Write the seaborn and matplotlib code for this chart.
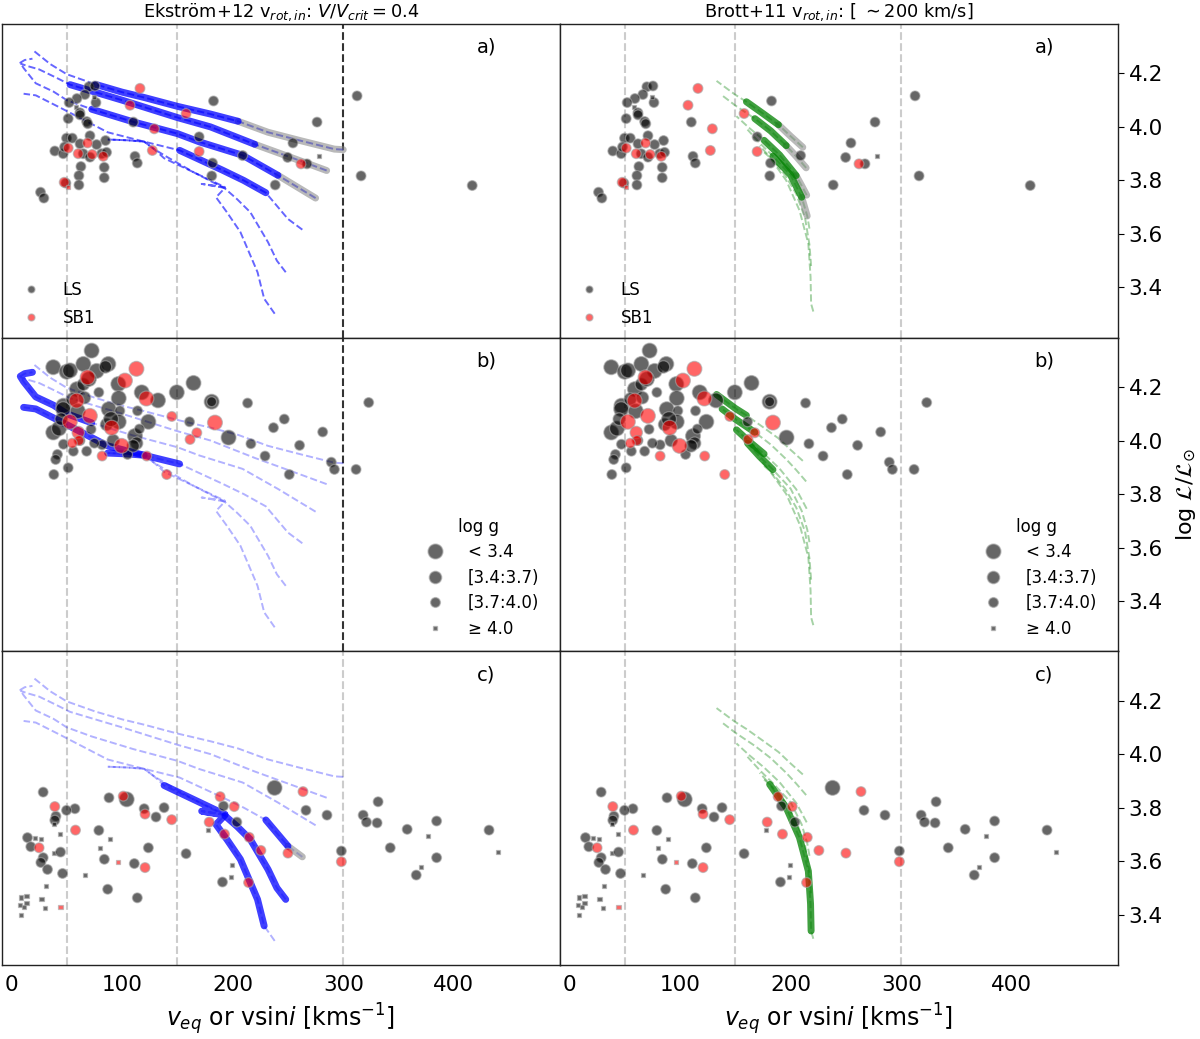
import numpy as np
import pandas as pd
import matplotlib
matplotlib.use("Agg")
import matplotlib.pyplot as plt
import seaborn as sns
from matplotlib.lines import Line2D

sns.set_style("white")
plt.rcParams['font.family'] = ['DejaVu Sans']
plt.rcParams['mathtext.fontset'] = 'dejavusans'
for key in ('text.color', 'axes.labelcolor', 'xtick.color', 'ytick.color'):
    plt.rcParams[key] = 'black'

# ---------------- data: panel a ----------------
a_ls_v = [70, 75.5, 66.4, 59.2, 52.2, 76.4, 74.9, 58, 61.9, 62, 51.3, 68, 69, 49.8, 55, 71, 62, 85.1, 77,
          39.2, 46.8, 48, 64.9, 71, 81.5, 86, 83.9, 62.8, 61, 83.9, 49.2, 61, 26.3, 29.3, 110.2, 111.7,
          113.8, 182.7, 169.7, 181.8, 181.1, 209, 276.3, 254.5, 249.7, 267.2, 277.8, 238.5, 312.5, 316.1, 416.6]
a_ls_L = [4.15, 4.153, 4.121, 4.106, 4.091, 4.091, 4.113, 4.074, 4.053, 4.045, 4.031, 4.02, 4.012, 3.958, 3.958,
          3.967, 3.937, 3.949, 3.934, 3.91, 3.90, 3.925, 3.90, 3.887, 3.90, 3.905, 3.849, 3.852, 3.818, 3.81,
          3.79, 3.783, 3.756, 3.734, 4.018, 3.89, 3.865, 4.097, 3.963, 3.865, 3.817, 3.893, 4.018, 3.94, 3.886,
          3.862, 3.89, 3.783, 4.116, 3.817, 3.781]
a_ls_g = [3, 3, 3, 3, 3, 3, 4, 4, 3, 3, 3, 3, 3, 3, 3, 3, 3, 3, 3, 3, 3, 3, 3, 3, 3, 3, 3, 3, 3, 3, 3, 3, 3, 3,
          3, 3, 3, 3, 3, 3, 3, 3, 3, 3, 3, 3, 4, 3, 3, 3, 3]
a_sb_v = [116.2, 107.2, 157.9, 129.2, 127.4, 169.7, 261.8, 51.3, 60.4, 68.8, 73, 83, 47.7, 51.3]
a_sb_L = [4.144, 4.081, 4.05, 3.993, 3.912, 3.908, 3.862, 3.921, 3.90, 3.94, 3.897, 3.89, 3.793, 3.775]
a_sb_g = [3, 3, 3, 3, 3, 3, 3, 3, 3, 3, 3, 3, 3, 4]

# ---------------- data: panel b ----------------
b_ls_v = [72.5, 37.8, 49.9, 53, 65, 77, 87.6, 85, 96.6, 59.2, 79, 97, 117.8, 132.5, 149.5, 164.6, 181, 181,
          213.5, 323, 47, 46.8, 55, 66, 88, 98, 114, 123.8, 37.8, 43, 45, 72, 97, 111.7, 113.2, 115.7, 196.3,
          161, 216.5, 229.3, 236.9, 246.7, 251.2, 260.5, 281.4, 289.2, 292, 311.6, 105, 82, 68, 56, 41.6, 40,
          38.3, 51.3, 47, 62, 75, 86, 90, 60, 65, 70, 110, 92]
b_ls_L = [4.336, 4.274, 4.257, 4.262, 4.286, 4.26, 4.286, 4.275, 4.211, 4.192, 4.18, 4.158, 4.18, 4.15, 4.18,
          4.215, 4.145, 4.145, 4.14, 4.142, 4.13, 4.117, 4.155, 4.16, 4.117, 4.111, 4.111, 4.07, 4.03, 4.045,
          4.08, 4.042, 4.07, 4.017, 3.99, 4.043, 4.011, 4.07, 3.988, 3.942, 4.048, 4.08, 3.873, 3.982, 4.032,
          3.919, 3.892, 3.892, 3.948, 3.984, 3.96, 3.96, 3.948, 3.929, 3.873, 3.898, 3.986, 4.0, 3.99, 4.06,
          4.08, 4.11, 4.21, 4.23, 3.98, 4.0]
b_ls_g = [1, 1, 1, 1, 1, 1, 1, 2, 1, 1, 3, 1, 1, 1, 1, 1, 1, 3, 3, 3, 1, 1, 2, 2, 1, 3, 3, 1, 1, 1, 2, 3, 1, 1,
          2, 3, 1, 3, 3, 3, 3, 3, 3, 3, 3, 3, 3, 3, 3, 3, 3, 3, 3, 3, 3, 3, 3, 3, 3, 2, 1, 1, 2, 1, 2, 2]
b_sb_v = [113, 68.8, 102.6, 122, 58.9, 70.9, 52.8, 90.6, 145, 184, 167.6, 161.5, 60.4, 61, 55, 99.6, 82,
          122.3, 140.4]
b_sb_L = [4.268, 4.236, 4.224, 4.157, 4.149, 4.092, 4.07, 4.048, 4.09, 4.067, 4.029, 4.004, 4.03, 4.0, 3.99,
          3.98, 3.942, 3.942, 3.873]
b_sb_g = [1, 1, 1, 1, 1, 1, 1, 1, 3, 1, 3, 3, 2, 3, 3, 1, 3, 3, 3]

# ---------------- data: panel c ----------------
c_ls_v = [28.7, 88.2, 104.2, 57.4, 49.8, 40.2, 39.2, 38.6, 120, 130.7, 138, 79, 14.5, 17.5, 21.1, 26.6, 28.7,
          26.6, 32.6, 43.8, 38.3, 44.4, 46.2, 66.4, 89, 80, 84, 123.8, 111.1, 87, 113.8, 157.9, 31.1, 27.2,
          30.2, 8.5, 13.6, 7.6, 13.6, 11.5, 8.5, 177.9, 191.7, 203.8, 199.3, 198.7, 190.8, 237.9, 266.3, 285.3,
          298.3, 318, 321, 330.6, 331.5, 342.5, 357.8, 384.4, 384.4, 366, 376.6, 370, 431.8, 439.6]
c_ls_L = [3.858, 3.837, 3.831, 3.796, 3.79, 3.768, 3.753, 3.74, 3.796, 3.765, 3.80, 3.715, 3.688, 3.654, 3.688,
          3.682, 3.613, 3.595, 3.569, 3.70, 3.632, 3.634, 3.554, 3.548, 3.684, 3.648, 3.607, 3.65, 3.591, 3.495,
          3.463, 3.628, 3.506, 3.46, 3.426, 3.464, 3.47, 3.436, 3.444, 3.43, 3.40, 3.716, 3.806, 3.746, 3.585,
          3.541, 3.522, 3.874, 3.79, 3.772, 3.638, 3.772, 3.746, 3.743, 3.822, 3.65, 3.719, 3.75, 3.613, 3.548,
          3.695, 3.579, 3.716, 3.634]
c_ls_g = [3, 3, 1, 3, 3, 3, 3, 4, 3, 3, 3, 3, 3, 3, 4, 4, 3, 3, 3, 4, 4, 3, 3, 4, 4, 4, 3, 3, 3, 3, 3, 3, 4, 4,
          4, 4, 4, 4, 4, 4, 4, 4, 3, 3, 4, 4, 3, 1, 3, 3, 3, 3, 3, 3, 3, 3, 3, 3, 3, 3, 4, 4, 3, 4]
c_sb_v = [39.2, 25, 57.9, 101.1, 120.8, 144.9, 120.8, 96, 44.4, 178.8, 188.7, 192.6, 201.4, 215, 214.4, 225.5,
          250, 263.6, 298.3]
c_sb_L = [3.804, 3.65, 3.716, 3.843, 3.776, 3.755, 3.576, 3.598, 3.43, 3.746, 3.841, 3.701, 3.804, 3.689, 3.52,
          3.64, 3.63, 3.86, 3.598]
c_sb_g = [3, 3, 3, 3, 3, 3, 3, 4, 4, 3, 3, 3, 3, 3, 3, 3, 3, 3, 3]

# ---------------- Ekstrom+12 tracks (ZAMS -> end) ----------------
ek_tracks = {
    'E1': ([300, 292, 260, 232, 205, 180, 150, 120, 100, 76, 50, 35, 20],
           [3.915, 3.917, 3.95, 3.98, 4.021, 4.048, 4.077, 4.11, 4.13, 4.159, 4.197, 4.235, 4.285]),
    'E2': ([285, 260, 240, 220, 180, 150, 100, 53, 40, 25, 14, 8],
           [3.837, 3.875, 3.905, 3.935, 4.0, 4.035, 4.10, 4.158, 4.185, 4.215, 4.228, 4.237]),
    'E3': ([275, 241, 209, 170, 150, 110, 72.6, 50, 38, 22, 11, 8, 12, 19],
           [3.734, 3.819, 3.894, 3.944, 3.975, 4.019, 4.066, 4.10, 4.132, 4.163, 4.22, 4.24, 4.25, 4.255]),
    'E4': ([263, 250, 230, 210, 190, 152, 120, 87, 45, 22, 11],
           [3.616, 3.656, 3.754, 3.80, 3.84, 3.9125, 3.945, 3.98, 4.07, 4.118, 4.124]),
    'E5': ([248, 240, 232, 216, 204, 193, 165, 141, 129, 120, 105, 87],
           [3.457, 3.50, 3.569, 3.681, 3.73, 3.77, 3.83, 3.887, 3.917, 3.945, 3.95, 3.953]),
    'E6': ([238, 228.5, 222.5, 207, 195, 185, 193, 172, 193, 165, 138, 129, 120, 105, 87],
           [3.302, 3.358, 3.457, 3.607, 3.68, 3.737, 3.772, 3.787, 3.775, 3.83, 3.883, 3.917, 3.945, 3.95, 3.953]),
}
# segments: (track, first index, last index, kind)
ek_segments = {
    'a': [('E1', 0, 4, 'gray'), ('E1', 4, 9, 'model'), ('E2', 0, 3, 'gray'), ('E2', 3, 7, 'model'),
          ('E3', 0, 1, 'gray'), ('E3', 1, 6, 'model'), ('E4', 2, 5, 'model')],
    'b': [('E3', 6, 13, 'model'), ('E4', 5, 10, 'model'), ('E5', 9, 11, 'model')],
    'c': [('E4', 0, 1, 'gray'), ('E4', 1, 2, 'model'), ('E5', 0, 5, 'model'), ('E6', 1, 10, 'model')],
}

# ---------------- Brott+11 tracks (ZAMS -> end) ----------------
br_tracks = {
    'D1': ([211, 200, 189, 175, 160, 150, 133], [3.924, 3.965, 4.008, 4.05, 4.094, 4.12, 4.172]),
    'D2': ([214, 205, 196, 182, 167.6, 150, 138], [3.847, 3.89, 3.93, 3.985, 4.031, 4.08, 4.118]),
    'D3': ([214.5, 210, 205, 190, 176, 162, 151], [3.745, 3.78, 3.818, 3.895, 3.95, 3.998, 4.04]),
    'D4': ([217, 215, 210, 200, 184, 172, 161], [3.62, 3.667, 3.737, 3.82, 3.891, 3.94, 3.99]),
    'D5': ([218.5, 217, 213, 205, 195, 185, 172], [3.48, 3.56, 3.66, 3.75, 3.82, 3.87, 3.93]),
    'D6': ([220.5, 218.5, 218, 216, 208, 196, 181, 176], [3.31, 3.339, 3.44, 3.563, 3.688, 3.80, 3.887, 3.905]),
}
br_segments = {
    'a': [('D1', 0, 2, 'gray'), ('D1', 2, 4, 'model'), ('D2', 0, 2, 'gray'), ('D2', 2, 4, 'model'),
          ('D3', 0, 2, 'gray'), ('D3', 2, 4, 'model'), ('D4', 1, 2, 'gray'), ('D4', 2, 4, 'model')],
    'b': [('D1', 4, 6, 'model'), ('D2', 4, 6, 'model'), ('D3', 4, 6, 'model'), ('D4', 4, 6, 'model')],
    'c': [('D6', 1, 6, 'model')],
}

panel_points = {
    'a': (a_ls_v, a_ls_L, a_ls_g, a_sb_v, a_sb_L, a_sb_g),
    'b': (b_ls_v, b_ls_L, b_ls_g, b_sb_v, b_sb_L, b_sb_g),
    'c': (c_ls_v, c_ls_L, c_ls_g, c_sb_v, c_sb_L, c_sb_g),
}

logg_labels = ['< 3.4', '[3.4:3.7)', '[3.7:4.0)', '≥ 4.0']
size_map = {1: 115, 2: 80, 3: 50, 4: 9}
marker_map = {1: 'o', 2: 'o', 3: 'o', 4: 's'}

# ---------------- figure ----------------
fig = plt.figure(figsize=(12, 10.39), dpi=100)
gs = fig.add_gridspec(3, 2, left=0.0017, right=0.9317, top=0.977, bottom=0.0715, wspace=0, hspace=0)
axes = np.array([[fig.add_subplot(gs[r, c]) for c in range(2)] for r in range(3)])


def draw_tracks(ax, tracks, segments, color, dash_alpha):
    for name, (tv, tl) in tracks.items():
        sns.lineplot(x=tv, y=tl, sort=False, estimator=None, ax=ax, color=color,
                     linestyle='--', linewidth=1.4, alpha=dash_alpha, zorder=2)
    for name, i0, i1, kind in segments:
        tv, tl = tracks[name]
        c = color if kind == 'model' else 'gray'
        al = 0.75 if kind == 'model' else 0.55
        sns.lineplot(x=tv[i0:i1 + 1], y=tl[i0:i1 + 1], sort=False, estimator=None, ax=ax,
                     color=c, linewidth=5, alpha=al, zorder=2.5)


def draw_points(ax, pts):
    lv, lL, lg, sv, sL, sg = pts
    df = pd.DataFrame({'v': lv + sv, 'L': lL + sL,
                       'kind': ['LS'] * len(lv) + ['SB1'] * len(sv), 'g': lg + sg})
    sns.scatterplot(data=df, x='v', y='L', hue='kind', palette={'LS': 'black', 'SB1': 'red'},
                    size='g', sizes=size_map, style='g', markers=marker_map, alpha=0.6,
                    edgecolor='#a8a8a8', linewidth=0.9, legend=False, ax=ax, zorder=3)


rows = ['a', 'b', 'c']
for r, p in enumerate(rows):
    for c in range(2):
        ax = axes[r, c]
        for xv in (50, 150):
            ax.axvline(xv, color='#cccccc', linestyle='--', linewidth=1.5, zorder=1)
        if c == 0 and p in ('a', 'b'):
            ax.axvline(300, color='#333333', linestyle='--', linewidth=1.5, zorder=1)
        else:
            ax.axvline(300, color='#cccccc', linestyle='--', linewidth=1.5, zorder=1)
        if c == 0:
            draw_tracks(ax, ek_tracks, ek_segments[p], 'blue', 0.6 if p == 'a' else 0.3)
        else:
            draw_tracks(ax, br_tracks, br_segments[p], 'green', 0.35)
        draw_points(ax, panel_points[p])
        ax.set_xlim(-8.5, 496)
        ax.set_ylim(3.213, 4.385)
        ax.set_xlabel('')
        ax.set_ylabel('')
        ax.text(0.868, 0.925, p + ')', transform=ax.transAxes, fontsize=14, ha='center', va='center')
        for s in ax.spines.values():
            s.set_color('#222222')
            s.set_linewidth(1.0)
        ax.set_xticks([0, 100, 200, 300, 400])
        ax.set_yticks([3.4, 3.6, 3.8, 4.0, 4.2])
        ax.tick_params(axis='both', direction='out', length=4, labelsize=15.5)
        if r < 2:
            ax.tick_params(axis='x', bottom=False, labelbottom=False)
        else:
            ax.set_xlabel(r'$v_{eq}$ or vsin$i$ [kms$^{-1}$]', fontsize=17)
        if c == 0:
            ax.tick_params(axis='y', left=False, labelleft=False, right=False)
        else:
            ax.yaxis.tick_right()
            ax.tick_params(axis='y', left=False, right=True, labelright=True, labelleft=False)

# legends
pt_handles = [Line2D([], [], marker='o', linestyle='', color='black', alpha=0.6, markersize=5,
                     markeredgecolor='#a8a8a8'),
              Line2D([], [], marker='o', linestyle='', color='red', alpha=0.6, markersize=5,
                     markeredgecolor='#a8a8a8')]
for c in range(2):
    axes[0, c].legend(pt_handles, ['LS', 'SB1'], loc='lower left', bbox_to_anchor=(-0.005, -0.015),
                      frameon=False, fontsize=12, handletextpad=0.9, labelspacing=0.6)
    g_handles = [Line2D([], [], marker=marker_map[k], linestyle='', color='black', alpha=0.6,
                        markersize=np.sqrt(size_map[k]), markeredgecolor='#a8a8a8')
                 for k in (1, 2, 3, 4)]
    axes[1, c].legend(g_handles, logg_labels, title='log g', loc='lower right',
                      bbox_to_anchor=(0.99, -0.005), frameon=False, fontsize=12, title_fontsize=12,
                      handletextpad=1.0, labelspacing=0.45)

axes[0, 0].set_title(r'Ekström+12 v$_{rot, in}$: $V/V_{crit} = 0.4$', fontsize=12.8, pad=5)
axes[0, 1].set_title(r'Brott+11 v$_{rot, in}$: [ $\sim$200 km/s]', fontsize=12.8, pad=5)
axes[1, 1].yaxis.set_label_position('right')
axes[1, 1].set_ylabel(r'log $\mathcal{L}/\mathcal{L}_{\odot}$', fontsize=16, labelpad=8)

fig.savefig('out.png', dpi=100)
